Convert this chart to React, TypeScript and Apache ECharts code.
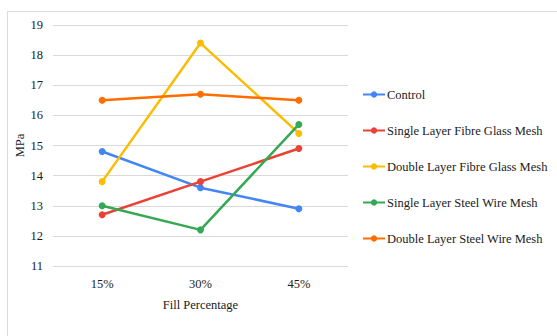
import React, { useEffect, useRef } from "react";
import * as echarts from "echarts";

const categories = ["15%", "30%", "45%"];
const seriesNames = [
  "Control",
  "Single Layer Fibre Glass Mesh",
  "Double Layer Fibre Glass Mesh",
  "Single Layer Steel Wire Mesh",
  "Double Layer Steel Wire Mesh",
];
const control = [14.8, 13.6, 12.9];
const singleFibreGlass = [12.7, 13.8, 14.9];
const doubleFibreGlass = [13.8, 18.4, 15.4];
const singleSteelWire = [13.0, 12.2, 15.7];
const doubleSteelWire = [16.5, 16.7, 16.5];
const seriesValues = [control, singleFibreGlass, doubleFibreGlass, singleSteelWire, doubleSteelWire];
const colors = ["#4285F4", "#EA4335", "#FBBC04", "#34A853", "#FF6D01"];

const FONT = "Liberation Serif, Times New Roman, serif";
const TEXT_COLOR = "#1a1a1a";
const FONT_SIZE = 12.5;

export default function App() {
  const ref = useRef<HTMLDivElement>(null);

  useEffect(() => {
    if (!ref.current) return;
    const chart = echarts.init(ref.current, undefined, { renderer: "svg" });
    const text = { fontFamily: FONT, fontSize: FONT_SIZE, color: TEXT_COLOR };
    chart.setOption({
      animation: false,
      backgroundColor: "#ffffff",
      textStyle: { fontFamily: FONT },
      color: colors,
      grid: { left: 53, right: 209, top: 25, bottom: 70, containLabel: false },
      graphic: [
        {
          type: "rect",
          shape: { x: 7.5, y: 11.5, width: 600, height: 400 },
          style: { fill: "none", stroke: "#dcdcdc", lineWidth: 1 },
          silent: true,
        },
      ],
      legend: {
        orient: "vertical",
        left: 362,
        top: 88,
        padding: 0,
        itemWidth: 22,
        itemHeight: 8,
        itemGap: 23,
        textStyle: { ...text, padding: [0, 0, 0, -3] },
        data: seriesNames,
      },
      xAxis: {
        type: "category",
        data: categories,
        boundaryGap: true,
        axisLine: { show: false },
        axisTick: { show: false },
        axisLabel: { ...text, margin: 11 },
        name: "Fill Percentage",
        nameLocation: "middle",
        nameGap: 32,
        nameTextStyle: text,
      },
      yAxis: {
        type: "value",
        min: 11,
        max: 19,
        interval: 1,
        axisLine: { show: false },
        axisTick: { show: false },
        splitLine: { lineStyle: { color: "#d9d9d9", width: 1 } },
        axisLabel: { ...text, margin: 10 },
        name: "MPa",
        nameLocation: "middle",
        nameGap: 27,
        nameMoveOverlap: false,
        nameRotate: 90,
        nameTextStyle: text,
      },
      series: seriesNames.map((name, i) => ({
        name,
        type: "line",
        data: seriesValues[i],
        symbol: "circle",
        symbolSize: 7,
        lineStyle: { width: 2.5, color: colors[i] },
        itemStyle: { color: colors[i] },
      })),
    });
    return () => chart.dispose();
  }, []);

  return (
    <div
      ref={ref}
      style={{ position: "fixed", left: 0, top: 0, width: 557, height: 336 }}
    />
  );
}
